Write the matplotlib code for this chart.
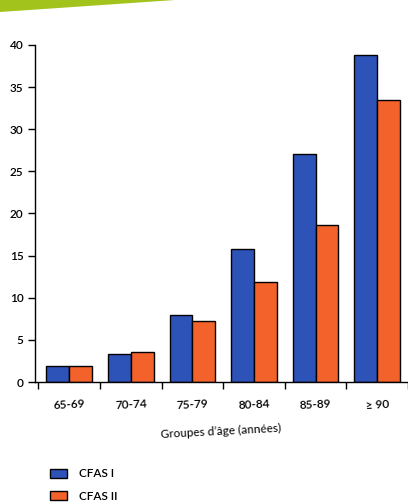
import numpy as np
import matplotlib.pyplot as plt
from matplotlib.patches import Polygon, Patch

# ------------------------------------------------------------
# Data
# ------------------------------------------------------------
groups   = ["65-69", "70-74", "75-79", "80-84", "85-89", "\u2265 90"]
cfas_i   = [1.9, 3.3, 8.0, 15.8, 27.0, 38.8]
cfas_ii  = [1.9, 3.6, 7.2, 11.9, 18.6, 33.4]
y_ticks  = [0, 5, 10, 15, 20, 25, 30, 35, 40]

BLUE   = "#2d52b8"
ORANGE = "#f4622c"
GREEN  = "#a2c21c"

plt.rcParams["font.family"] = ["Lato", "DejaVu Sans"]
plt.rcParams["font.weight"] = "semibold"

fig = plt.figure(figsize=(4.08, 5.04), dpi=100)
ax  = fig.add_axes([0.085, 0.242, 0.915, 0.669])

x = np.arange(len(groups))
w = 0.37
ax.bar(x - w / 2, cfas_i,  w, color=BLUE,   edgecolor="black", linewidth=1.0)
ax.bar(x + w / 2, cfas_ii, w, color=ORANGE, edgecolor="black", linewidth=1.0)

ax.set_xlim(-0.56, 5.25)
ax.set_ylim(0, 40)
ax.set_yticks(y_ticks)

# labels at group centres, tick marks between groups
ax.set_xticks(x)
ax.set_xticklabels(groups, fontsize=8.5, rotation=3)
ax.tick_params(axis="x", which="major", length=0, pad=12)
ax.set_xticks(np.arange(-0.5, len(groups), 1.0), minor=True)
ax.tick_params(axis="x", which="minor", length=5, width=1.0, direction="out")
ax.tick_params(axis="y", length=5, width=1.0, labelsize=8.5, pad=3)

ax.spines["top"].set_visible(False)
ax.spines["right"].set_visible(False)
for s in ("left", "bottom"):
    ax.spines[s].set_linewidth(1.0)

ax.set_xlabel("Groupes d\u2019\u00e2ge (ann\u00e9es)", fontsize=8.5, rotation=3)
ax.xaxis.set_label_coords(0.5, -0.12)

# legend near the bottom edge
handles = [Patch(facecolor=BLUE, edgecolor="black", linewidth=1.0),
           Patch(facecolor=ORANGE, edgecolor="black", linewidth=1.0)]
fig.legend(handles, ["CFAS I", "CFAS II"], loc="upper left",
           bbox_to_anchor=(0.11, 0.08), frameon=False, fontsize=8.5,
           handlelength=1.5, handleheight=0.8, labelspacing=0.95,
           handletextpad=1.0, borderaxespad=0)

# green header band
band = Polygon([(0, 1), (0, 1 - 12 / 504), (175 / 408, 1)], closed=True,
               transform=fig.transFigure, facecolor=GREEN, edgecolor="none")
fig.patches.append(band)

fig.savefig("out.png", dpi=100)
